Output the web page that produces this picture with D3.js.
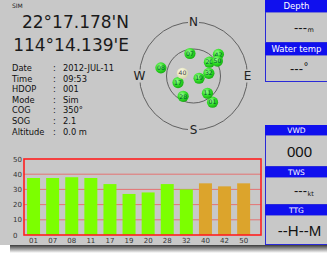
<!DOCTYPE html>
<html><head><meta charset="utf-8">
<script src="https://cdn.jsdelivr.net/npm/d3@7"></script>
<style>html,body{margin:0;padding:0;background:#fff;}svg{display:block;}</style>
</head><body>
<script>
// ---- data ----
const latText = "22°17.178'N";
const lonText = "114°14.139'E";
const infoLabels = ["Date","Time","HDOP","Mode","COG","SOG","Altitude"];
const infoValues = ["2012-JUL-11","09:53","001","Sim","350°","2.1","0.0 m"];
const satIds   = ["01","07","08","11","17","19","20","28","32","40","42","50"];
const satSnr   = [37.5,37.5,38,37.5,33.5,27,28,33.5,30,34,32,34];
const satUsed  = [true,true,true,true,true,true,true,true,true,false,false,false];
const skyIds   = ["42","01","07","08","11","17","19","20","28","32","50","40"];
const skyAz    = [49,144,351,284,141,247,112,49,207,80,58,284];
const skyEl    = [35,36,52,34,53,62,80,55,52,64,43,71];
const yTicks   = [0,10,20,30,40,50];
const panelTitles = ["Depth","Water temp","VWD","TWS","TTG"];
const panelValues = ["---","---","000","---","--H--M"];
const panelUnits  = ["m","°","","kt",""];

const W = 327, H = 254;
const svg = d3.select("body").append("svg").attr("width", W).attr("height", H);
const defs = svg.append("defs");
const g1 = defs.append("radialGradient").attr("id","gGreen").attr("cx","40%").attr("cy","35%").attr("r","65%");
g1.append("stop").attr("offset","0%").attr("stop-color","#9cff8c");
g1.append("stop").attr("offset","60%").attr("stop-color","#2fdc25");
g1.append("stop").attr("offset","100%").attr("stop-color","#18b014");
const g2 = defs.append("radialGradient").attr("id","gPale").attr("cx","40%").attr("cy","35%").attr("r","65%");
g2.append("stop").attr("offset","0%").attr("stop-color","#ffffee");
g2.append("stop").attr("offset","100%").attr("stop-color","#d8d6a8");
const sh = defs.append("linearGradient").attr("id","shadow").attr("x1",0).attr("y1",0).attr("x2",0).attr("y2",1);
sh.append("stop").attr("offset","0%").attr("stop-color","#3a3a3a");
sh.append("stop").attr("offset","100%").attr("stop-color","#ffffff");

// background
svg.append("rect").attr("x",0).attr("y",0).attr("width",W).attr("height",245).attr("fill","#c8c8c8");
svg.append("rect").attr("x",10).attr("y",245).attr("width",W-10).attr("height",8).attr("fill","url(#shadow)");

const sans = "'DejaVu Sans', Verdana, sans-serif";
const arial = "'Liberation Sans', Arial, sans-serif";

// ---- position text ----
svg.append("text").attr("x",12).attr("y",8).attr("font-family",sans).attr("font-size",6).attr("fill","#222").text("SIM");
svg.append("text").attr("x",129).attr("y",28).attr("text-anchor","end").attr("font-family",sans).attr("font-size",17).attr("fill","#1a1a1a").text(latText);
svg.append("text").attr("x",129).attr("y",51).attr("text-anchor","end").attr("font-family",sans).attr("font-size",17).attr("fill","#1a1a1a").text(lonText);

const info = svg.append("g").attr("font-family",sans).attr("font-size",8.3).attr("fill","#111");
infoLabels.forEach((l,i)=>{
  const y = 71 + i*10.6;
  info.append("text").attr("x",12).attr("y",y).text(l);
  info.append("text").attr("x",53).attr("y",y).text(":");
  info.append("text").attr("x",63).attr("y",y).text(infoValues[i]);
});

// ---- sky plot ----
const cx = 193.5, cy = 76;
const rScale = d3.scaleLinear().domain([90,0]).range([0,54]);
const sky = svg.append("g");
[0,45].forEach(e=>{
  sky.append("circle").attr("cx",cx).attr("cy",cy).attr("r",rScale(e)).attr("fill","none").attr("stroke","#555").attr("stroke-width",0.9);
});
const compass = [["N",0],["E",90],["S",180],["W",270]];
compass.forEach(([t,a])=>{
  const rad = a*Math.PI/180, R = rScale(0);
  const x = cx + R*Math.sin(rad), y = cy - R*Math.cos(rad);
  sky.append("rect").attr("x",x-5.5).attr("y",y-6.5).attr("width",11).attr("height",13).attr("fill","#c8c8c8");
  sky.append("text").attr("x",x).attr("y",y+4.3).attr("text-anchor","middle").attr("font-family",sans).attr("font-size",12).attr("fill","#222").text(t);
});
skyIds.forEach((id,i)=>{
  const rad = skyAz[i]*Math.PI/180, R = rScale(skyEl[i]);
  const x = cx + R*Math.sin(rad), y = cy - R*Math.cos(rad);
  const pale = id==="40";
  sky.append("circle").attr("cx",x).attr("cy",y).attr("r",5.6).attr("fill",pale?"url(#gPale)":"url(#gGreen)");
  sky.append("text").attr("x",x).attr("y",y+2.2).attr("text-anchor","middle").attr("font-family",sans).attr("font-size",6.2).attr("fill",pale?"#444":"#053").text(id);
});

// ---- SNR bar chart ----
const y = d3.scaleLinear().domain([0,50]).range([235,159]);
const x = d3.scaleBand().domain(satIds).range([24,253.2]).paddingInner(0.32).paddingOuter(0.16);
const chart = svg.append("g");
yTicks.filter(t=>t>0&&t<50).forEach(t=>{
  chart.append("line").attr("x1",24).attr("x2",261).attr("y1",y(t)).attr("y2",y(t)).attr("stroke","#e86a6a").attr("stroke-width",0.9);
});
chart.selectAll("rect.bar").data(satIds).enter().append("rect").attr("class","bar")
  .attr("x",d=>x(d)).attr("width",x.bandwidth())
  .attr("y",(d,i)=>y(satSnr[i])).attr("height",(d,i)=>y(0)-y(satSnr[i]))
  .attr("fill",(d,i)=>satUsed[i]?"#7cff00":"#dca42c");
chart.append("rect").attr("x",24).attr("y",y(50)).attr("width",261-24).attr("height",y(0)-y(50))
  .attr("fill","none").attr("stroke","#ff2020").attr("stroke-width",1.6);
yTicks.forEach(t=>{
  chart.append("text").attr("x",13).attr("y",y(t)+2.5).attr("font-family",sans).attr("font-size",7).attr("fill","#333").text(t);
});
satIds.forEach(id=>{
  chart.append("text").attr("x",x(id)+x.bandwidth()/2).attr("y",242.5).attr("text-anchor","middle").attr("font-family",sans).attr("font-size",7).attr("fill","#333").text(id);
});

// ---- right panels ----
const px = 265, pw = 64;
const layout = [
  {hy:0,hh:12,bh:31,fs:8.5},
  {hy:43,hh:12,bh:27,fs:8.5},
  {hy:125,hh:10,bh:32,fs:7.5},
  {hy:167,hh:10,bh:28,fs:7.5},
  {hy:205,hh:10,bh:30,fs:7.5}
];
panelTitles.forEach((t,i)=>{
  const L = layout[i];
  const p = svg.append("g");
  p.append("rect").attr("x",px+0.5).attr("y",L.hy+L.hh).attr("width",pw).attr("height",L.bh-0.5)
    .attr("fill","#c8c8c8").attr("stroke","#2a2ad8").attr("stroke-width",1);
  p.append("rect").attr("x",px).attr("y",L.hy).attr("width",pw).attr("height",L.hh).attr("fill","#1010ee");
  p.append("text").attr("x",296.5).attr("y",L.hy+L.hh/2+3).attr("text-anchor","middle").attr("font-family",sans)
    .attr("font-size",L.fs).attr("fill","#fff").text(t);
  const midY = L.hy + L.hh + L.bh/2;
  const v = panelValues[i], u = panelUnits[i];
  if (v==="---") {
    const tx = p.append("text").attr("x",u==="°"?303:307).attr("y",midY+4).attr("text-anchor","end").attr("font-family",arial).attr("fill","#111");
    tx.append("tspan").attr("font-size",13).text(v);
    if (u==="°") {
      p.append("text").attr("x",303.5).attr("y",midY+1).attr("font-family",sans).attr("font-size",10).attr("fill","#111").text(u);
    } else {
      p.append("text").attr("x",307.5).attr("y",midY+4.5).attr("font-family",sans).attr("font-size",6.5).attr("fill","#111").text(u);
    }
  } else {
    p.append("text").attr("x",299.5).attr("y",midY+5.5).attr("text-anchor","middle").attr("font-family",arial).attr("font-size",15).attr("fill","#111").text(v);
  }
});
</script>
</body></html>
